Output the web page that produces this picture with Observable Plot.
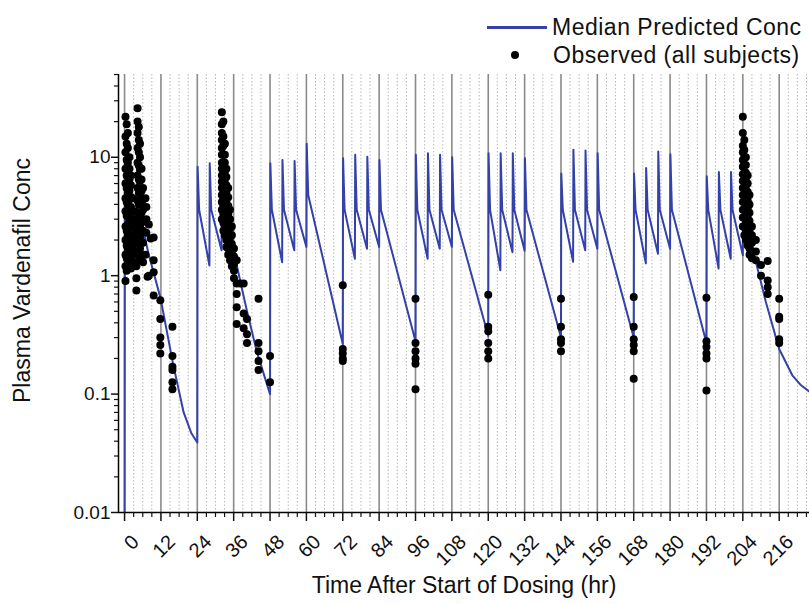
<!DOCTYPE html>
<html>
<head>
<meta charset="utf-8">
<script src="https://cdn.jsdelivr.net/npm/d3@7"></script>
<script src="https://cdn.jsdelivr.net/npm/@observablehq/plot@0.6"></script>
<style>
  html, body { margin: 0; padding: 0; background: #fff; overflow: hidden; }
  #wrap { width: 809px; height: 604px; position: relative; overflow: hidden; font-family: "Liberation Sans", Arial, sans-serif; }
  #legend { position: relative; width: 809px; height: 66px; }
  .lg-text { position: absolute; font-size: 23px; line-height: 24px; letter-spacing: 0.5px; white-space: nowrap; color: #111; }
  .lg-line { position: absolute; left: 487px; top: 26px; width: 60px; height: 2.5px; background: #3341a8; }
  .lg-dot { position: absolute; left: 511px; top: 51px; width: 8px; height: 8px; border-radius: 50%; background: #000; }
</style>
</head>
<body>
<div id="wrap">
  <div id="legend">
    <div class="lg-line"></div>
    <div class="lg-text" id="lg1" style="left:552px; top:15px;"></div>
    <div class="lg-dot"></div>
    <div class="lg-text" id="lg2" style="left:553px; top:43px;"></div>
  </div>
  <div id="chart"></div>
</div>
<script>
// ---------- text ----------
const legendLine = "Median Predicted Conc";
const legendDots = "Observed (all subjects)";
const xTitle = "Time After Start of Dosing (hr)";
const yTitle = "Plasma Vardenafil Conc";

// ---------- ticks ----------
const xMajor = [0, 12, 24, 36, 48, 60, 72, 84, 96, 108, 120, 132, 144, 156, 168, 180, 192, 204, 216];
const xMinor = [3, 6, 9, 15, 18, 21, 27, 30, 33, 39, 42, 45, 51, 54, 57, 63, 66, 69, 75, 78, 81, 87, 90, 93,
  99, 102, 105, 111, 114, 117, 123, 126, 129, 135, 138, 141, 147, 150, 153, 159, 162, 165, 171, 174, 177,
  183, 186, 189, 195, 198, 201, 207, 210, 213, 219, 222, 225];
const yMajor = [0.01, 0.1, 1, 10];
const yMajorLabels = ["0.01", "0.1", "1", "10"];
const yMinor = [0.02, 0.03, 0.04, 0.05, 0.06, 0.07, 0.08, 0.09,
  0.2, 0.3, 0.4, 0.5, 0.6, 0.7, 0.8, 0.9,
  2, 3, 4, 5, 6, 7, 8, 9, 20, 30, 40, 50];

// ---------- median predicted concentration ----------
// per dose: dose time (hr), concentration at dose time, spike peak, post-spike level
const doseTime   = [0, 4, 24, 28, 32, 48, 52, 56, 60, 72, 76, 80, 84, 96, 100, 104, 108,
                    120, 124, 128, 132, 144, 148, 152, 156, 168, 172, 176, 180, 192, 196, 200, 204];
const doseTrough = [0.001, 1.9, 0.039, 1.22, 1.64, 0.1, 1.3, 1.64, 1.75, 0.265, 1.39, 1.69, 1.75, 0.28, 1.39, 1.69, 1.75,
                    0.31, 1.11, 1.58, 1.62, 0.30, 1.31, 1.64, 1.69, 0.30, 1.27, 1.53, 1.69, 0.27, 1.15, 1.39, 1.49];
const dosePeak   = [8.9, 9.5, 8.3, 8.9, 9.0, 8.9, 9.5, 9.3, 13, 9.8, 10.5, 10.1, 9.5, 10.5, 10.8, 10.5, 10.0,
                    10.8, 10.8, 10.8, 9.8, 7.3, 11.6, 11.4, 10.8, 7.3, 8.1, 11.2, 10.6, 6.9, 7.5, 7.5, 7.5];
const dosePost   = [3.6, 3.6, 3.6, 3.6, 3.6, 3.6, 3.6, 3.6, 4.8, 3.6, 3.6, 3.6, 3.6, 3.6, 3.6, 3.6, 3.6,
                    3.6, 3.6, 3.6, 3.6, 3.6, 3.6, 3.6, 3.6, 3.6, 3.6, 3.6, 3.6, 3.6, 3.6, 3.6, 3.6];
// decline after the last dose of a day (read points)
const tailAfter4   = [[7.9, 1.54], [11.9, 0.64], [16, 0.18], [19.5, 0.07], [22, 0.047]];
const tailAfter32  = [[36, 1.6], [40.4, 0.5], [43.7, 0.225]];
const tailAfter204 = [[208.3, 1.31], [211.6, 0.6], [216, 0.24], [220.4, 0.143], [223, 0.12], [226, 0.105]];

// ---------- observed concentrations: [time, [values...]] ----------
const obsDay1 = [
  [0.3, [22, 15, 11, 8, 6, 4.5, 3.5, 2.6, 2.0, 1.5, 1.2, 0.9]],
  [0.7, [19, 13, 9.5, 7, 5.5, 4.2, 3.2, 2.4, 1.8, 1.4, 1.1]],
  [1.1, [16, 12, 9, 7.5, 6, 5, 4, 3.3, 2.7, 2.2, 1.7, 1.3]],
  [1.6, [10, 8, 6.5, 5.2, 4.4, 3.6, 3, 2.5, 2.0, 1.6, 1.25]],
  [2.1, [7, 5.8, 4.6, 3.8, 3.1, 2.6, 2.1, 1.7, 1.4, 1.15]],
  [2.7, [4.5, 3.5, 2.8, 2.2, 1.8, 1.5, 1.2]],
  [3.3, [3.5, 2.6, 2.0, 1.6, 1.3]],
  [3.9, [3.0, 2.4, 1.9, 1.5, 1.2, 0.95, 0.75]],
  [4.3, [26, 20, 16, 12, 9, 7, 5.5, 4.3, 3.4, 2.7, 2.1, 1.6]],
  [4.7, [18, 14, 11, 8.5, 6.5, 5, 4, 3.1, 2.4, 1.9]],
  [5.1, [13, 10, 8, 6.3, 5, 4, 3.2, 2.6, 2.1, 1.7, 1.35]],
  [5.6, [8, 6.5, 5.2, 4.2, 3.4, 2.8, 2.3, 1.9, 1.5]],
  [6.1, [5.5, 4.4, 3.6, 2.9, 2.4, 1.9, 1.5, 1.3]],
  [6.9, [4.5, 1.5]],
  [7.2, [3.8, 3.0, 2.3]],
  [7.6, [0.98]],
  [8.0, [2.7, 1.0]],
  [8.6, [2.06]],
  [9.6, [2.1, 1.35, 1.07, 0.68]],
  [11.8, [0.62, 0.43, 0.3, 0.26, 0.22]],
  [15.8, [0.37, 0.21, 0.17, 0.16, 0.126, 0.11]]
];
const obsDay2 = [
  [32.1, [24, 19, 16, 14, 12, 10.5, 9, 8, 7, 6.2, 5.5, 4.8, 4.2, 3.6, 3.0]],
  [32.6, [20, 15, 12.5, 10.5, 9, 7.8, 6.8, 6, 5.2, 4.5, 3.9, 3.3, 2.8, 2.4]],
  [33.1, [13, 10.5, 9, 7.6, 6.5, 5.6, 4.8, 4.1, 3.5, 3.0, 2.6, 2.2]],
  [33.6, [8, 6.8, 5.8, 5, 4.3, 3.7, 3.2, 2.7, 2.3, 2.0, 1.75]],
  [34.2, [5.5, 4.6, 3.9, 3.3, 2.8, 2.4, 2.0, 1.7, 1.5]],
  [34.8, [3.6, 3.0, 2.5, 2.1, 1.8, 1.55, 1.35]],
  [35.4, [2.6, 2.2, 1.85, 1.6, 1.4, 1.2]],
  [36.1, [1.7, 1.45, 1.25, 1.1, 0.95]],
  [37.0, [1.35, 0.86, 0.7, 0.54, 0.39]],
  [38.2, [0.86]],
  [39.3, [0.86, 0.48, 0.36]],
  [40.4, [0.43, 0.32, 0.27]],
  [44.2, [0.64, 0.27, 0.23, 0.19, 0.16]],
  [48.0, [0.21, 0.126]]
];
const obsTroughs = [
  [72, [0.83, 0.24, 0.22, 0.2, 0.19]],
  [96, [0.64, 0.27, 0.23, 0.2, 0.18, 0.11]],
  [120, [0.69, 0.37, 0.34, 0.27, 0.23, 0.2]],
  [144, [0.64, 0.37, 0.29, 0.27, 0.23]],
  [168, [0.66, 0.37, 0.29, 0.26, 0.23, 0.135]],
  [192, [0.65, 0.28, 0.25, 0.22, 0.2, 0.107]]
];
const obsDay9 = [
  [204.0, [22, 16, 12.5, 11, 9.5, 8.3, 7.2, 6.3, 5.5, 4.8, 4.2, 3.6, 3.1, 2.6]],
  [204.5, [14, 11.5, 10, 8.6, 7.4, 6.4, 5.6, 4.9, 4.2, 3.6, 3.1, 2.6, 2.2]],
  [205.0, [10, 8.6, 7.4, 6.3, 5.4, 4.6, 4.0, 3.4, 2.9, 2.4, 2.0]],
  [205.6, [7, 6, 5.1, 4.3, 3.7, 3.1, 2.6, 2.2, 1.8]],
  [206.2, [4.8, 4.0, 3.4, 2.9, 2.4, 2.0, 1.7, 1.5]],
  [207.0, [2.6, 2.2, 1.9, 1.6, 1.4]],
  [208.3, [2.0, 1.6, 1.35]],
  [210.0, [1.23, 1.0]],
  [212.2, [1.33, 0.91, 0.8, 0.7]],
  [216.0, [0.64, 0.45, 0.43, 0.29, 0.27]]
];

// ---------- build tables ----------
const tails = new Map([[4, tailAfter4], [32, tailAfter32], [204, tailAfter204]]);
const predicted = [];
doseTime.forEach((t, i) => {
  predicted.push({t: t, c: doseTrough[i]});
  predicted.push({t: t + 0.1, c: dosePeak[i]});
  predicted.push({t: t + 0.6, c: dosePost[i]});
  const tail = tails.get(t);
  if (tail) tail.forEach(([tt, cc]) => predicted.push({t: tt, c: cc}));
});
const observed = [];
[obsDay1, obsDay2, obsTroughs, obsDay9].forEach(group =>
  group.forEach(([t, vals]) => vals.forEach(c => observed.push({t, c})))
);

document.getElementById("lg1").textContent = legendLine;
document.getElementById("lg2").textContent = legendDots;

const font = "Liberation Sans, Arial, sans-serif";
const chart = Plot.plot({
  width: 809,
  height: 538,
  marginTop: 8,
  marginLeft: 118,
  marginRight: 0,
  marginBottom: 92,
  style: {fontFamily: font, fontSize: "18px", background: "white", color: "#111", overflow: "visible"},
  x: {domain: [-2, 226], axis: null},
  y: {type: "log", domain: [0.01, 50], axis: null},
  marks: [
    Plot.ruleX(xMinor, {stroke: "#b8b8b8", strokeWidth: 1, strokeDasharray: "1.5,2"}),
    Plot.ruleX(xMajor, {stroke: "#8a8a8a", strokeWidth: 1.6}),
    Plot.line(predicted, {x: "t", y: "c", stroke: "#3341a8", strokeWidth: 2, clip: true}),
    Plot.dot(observed, {x: "t", y: "c", r: 4, fill: "#000", stroke: "none"}),
    Plot.ruleX([-2], {stroke: "#000", strokeWidth: 1.5}),
    Plot.ruleY([0.01], {stroke: "#000", strokeWidth: 1.5}),
    Plot.axisY(yMajor, {anchor: "left", tickSize: 7, tickPadding: 1, fontSize: 19, strokeWidth: 1.5,
      tickFormat: d => yMajorLabels[yMajor.indexOf(d)], label: null}),
    Plot.axisY(yMinor, {anchor: "left", tickSize: 4, strokeWidth: 1.2, tickFormat: () => "", label: null}),
    Plot.axisX(xMajor, {anchor: "bottom", tickSize: 9, strokeWidth: 1.5, tickFormat: () => "", label: null}),
    Plot.axisX(xMajor, {anchor: "bottom", tickSize: 0, tickPadding: 12, tickRotate: -45, fontSize: 20,
      dx: 11, dy: 14, label: null}),
    Plot.axisX(xMinor, {anchor: "bottom", tickSize: 5, strokeWidth: 1.2, tickFormat: () => "", label: null}),
    Plot.text([xTitle], {frameAnchor: "bottom", dy: 80, fontSize: 23, fill: "#111"}),
    Plot.text([yTitle], {frameAnchor: "left", textAnchor: "middle", lineAnchor: "middle",
      dx: -96, dy: -13, rotate: -90, fontSize: 23, fill: "#111"})
  ]
});
document.getElementById("chart").appendChild(chart);
</script>
</body>
</html>
